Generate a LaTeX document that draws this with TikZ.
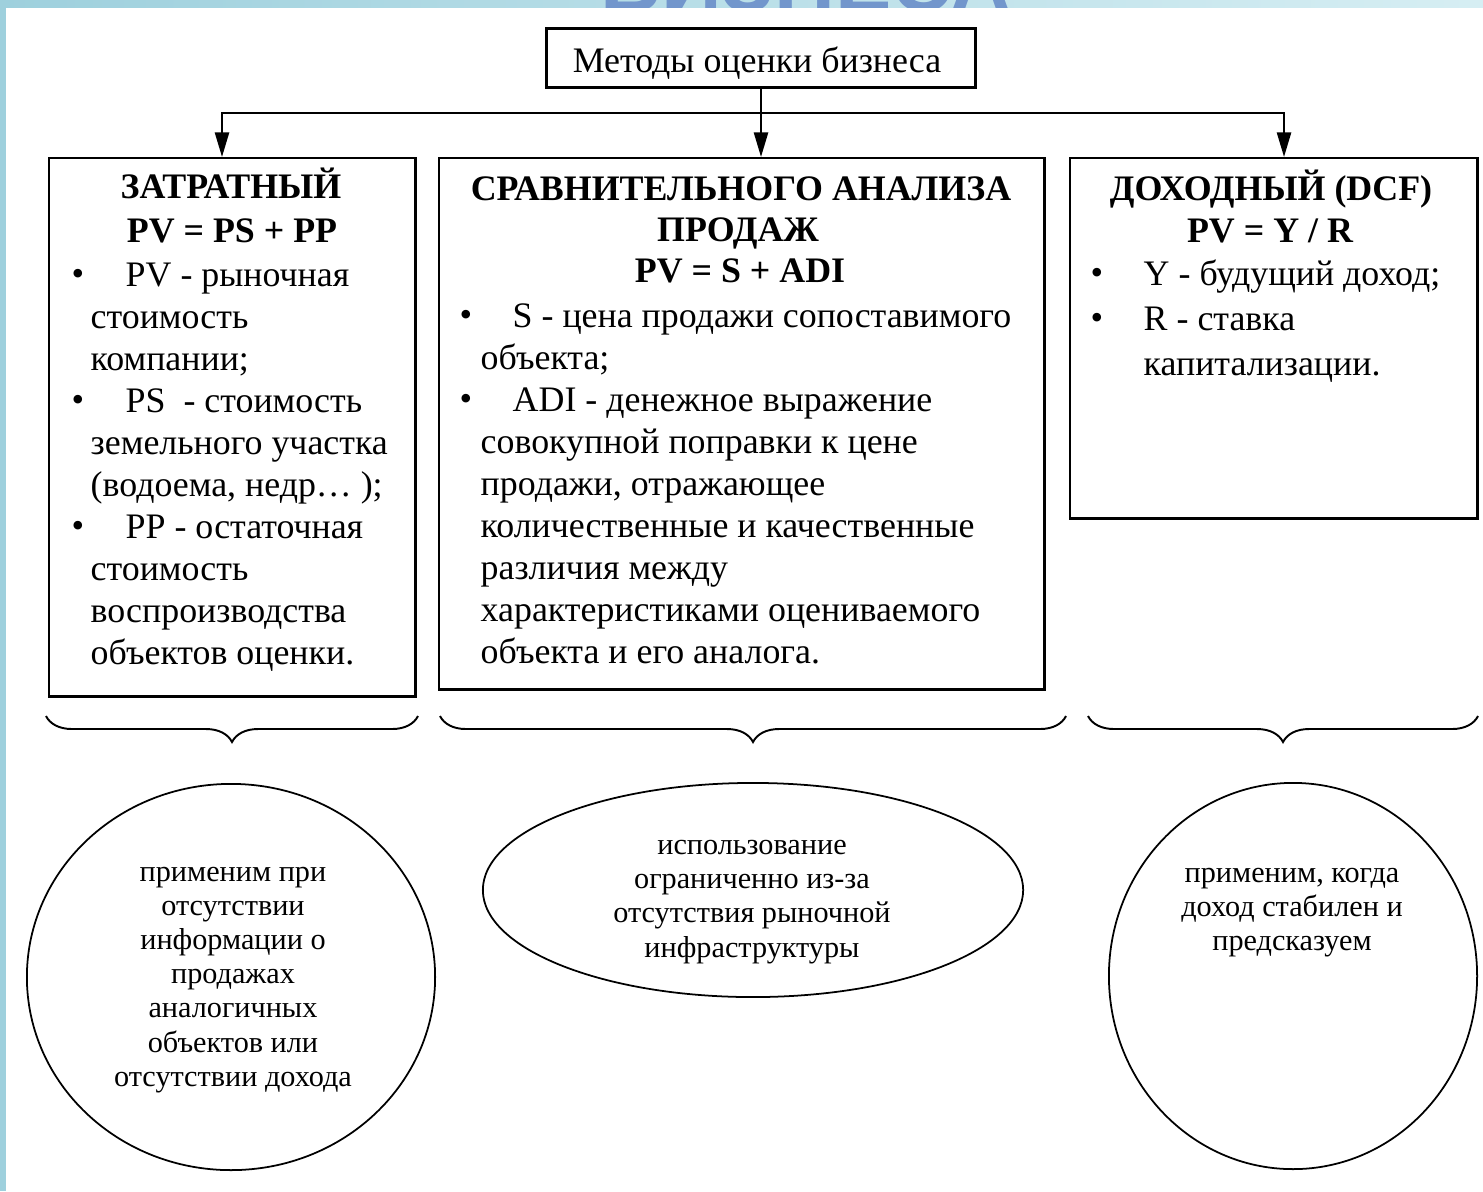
\documentclass[tikz,border=0pt]{standalone}
\usepackage{fontspec}
\setmainfont{Liberation Serif}
\newfontfamily\titlefont{Liberation Sans}
\usetikzlibrary{arrows.meta,shapes.geometric,decorations.pathreplacing,calc}
\definecolor{bandL}{RGB}{158,208,221}
\definecolor{bandR}{RGB}{214,238,243}
\definecolor{titleblue}{RGB}{114,150,204}
\begin{document}
\begin{tikzpicture}[x=0.01cm,y=-0.01cm,
  box/.style={draw, line width=0.65pt, rectangle, inner sep=0, anchor=north west},
  oval/.style={draw, line width=0.5pt, ellipse, inner sep=0},
  hd/.style={anchor=base, inner sep=0, font=\fontsize{10.2}{12}\selectfont\bfseries},
  tx/.style={anchor=base west, inner sep=0, font=\fontsize{10.2}{12}\selectfont},
  bul/.style={anchor=base, inner sep=0, font=\fontsize{10.2}{12}\selectfont},
  ctx/.style={align=center, inner sep=0, font=\fontsize{8.6}{9.7}\selectfont},
  conn/.style={line width=0.65pt},
  arr/.style={conn, -{Triangle[length=7pt,width=4pt]}},
  brc/.style={line width=0.55pt, decorate, decoration={brace, amplitude=7.4pt}}
]
\useasboundingbox (0,0) rectangle (1483,1191);
\clip (0,0) rectangle (1483,1191);
% background
\fill[left color=bandL, right color=bandR] (0,0) rectangle (1483,8);
\fill[bandL] (0,0) rectangle (6,1191);
\node[anchor=base, inner sep=0, text=titleblue, font=\titlefont\bfseries\fontsize{24}{24}\selectfont] (title) at (806,12) {БИЗНЕСА};
\fill[white] (6,8) rectangle (1483,1191);

% top box
\node[draw, line width=0.8pt, minimum width=4.29cm, minimum height=0.59cm, inner sep=0] (top) at (761,58) {};
\node[inner sep=0, font=\fontsize{10.2}{12}\selectfont] (toptext) at (757,63) {Методы оценки бизнеса};

% method boxes
\node[box, minimum width=3.66cm, minimum height=5.38cm] (lbox) at (48,157) {};
\node[box, minimum width=6.05cm, minimum height=5.31cm] (mbox) at (438,157) {};
\node[box, minimum width=4.07cm, minimum height=3.60cm] (rbox) at (1069,157) {};

% connectors
\coordinate (hl) at (222,113);
\coordinate (hr) at (1284,113);
\draw[conn, line cap=rect] (hl) -- (hr);
\draw[arr] (top.south) -- (top.south |- mbox.north);
\draw[arr] (hl) -- (hl |- lbox.north);
\draw[arr] (hr) -- (hr |- rbox.north);

% left box text
\node[hd] (lh1) at (231,199) {ЗАТРАТНЫЙ};
\node[hd] (lh2) at (232,242) {PV = PS + PP};
\node[bul] (lb1) at (78,285) {\textbullet};
\node[tx] (l1) at (125,286) {PV - рыночная};
\node[tx] (l2) at (90,328) {стоимость};
\node[tx] (l3) at (90,370) {компании;};
\node[bul] (lb2) at (78,411) {\textbullet};
\node[tx] (l4) at (125,412) {PS\ \ - стоимость};
\node[tx] (l5) at (90,454) {земельного участка};
\node[tx] (l6) at (90,496) {(водоема, недр… );};
\node[bul] (lb3) at (78,537) {\textbullet};
\node[tx] (l7) at (125,538) {PP - остаточная};
\node[tx] (l8) at (90,580) {стоимость};
\node[tx] (l9) at (90,622) {воспроизводства};
\node[tx] (l10) at (90,664) {объектов оценки.};

% middle box text
\node[hd] (mh1) at (741,200) {СРАВНИТЕЛЬНОГО АНАЛИЗА};
\node[hd] (mh2) at (738,241) {ПРОДАЖ};
\node[hd] (mh3) at (740,282) {PV = S + ADI};
\node[bul] (mb1) at (466,326) {\textbullet};
\node[tx] (m1) at (512,327) {S - цена продажи сопоставимого};
\node[tx] (m2) at (480,369) {объекта;};
\node[bul] (mb2) at (466,410) {\textbullet};
\node[tx] (m3) at (512,411) {ADI - денежное выражение};
\node[tx] (m4) at (480,453) {совокупной поправки к цене};
\node[tx] (m5) at (480,495) {продажи, отражающее};
\node[tx] (m6) at (480,537) {количественные и качественные};
\node[tx] (m7) at (480,579) {различия между};
\node[tx] (m8) at (480,621) {характеристиками оцениваемого};
\node[tx] (m9) at (480,663) {объекта и его аналога.};

% right box text
\node[hd] (rh1) at (1271,200) {ДОХОДНЫЙ (DCF)};
\node[hd] (rh2) at (1270,242) {PV = Y / R};
\node[bul] (rb1) at (1097,284) {\textbullet};
\node[tx] (r1) at (1143,285) {Y - будущий доход;};
\node[bul] (rb2) at (1097,329) {\textbullet};
\node[tx] (r2) at (1143,330) {R - ставка};
\node[tx] (r3) at (1143,375) {капитализации.};

% braces
\coordinate (b1r) at (418,716); \coordinate (b1l) at (46,716);
\coordinate (b2r) at (1066,716); \coordinate (b2l) at (440,716);
\coordinate (b3r) at (1478,716); \coordinate (b3l) at (1088,716);
\draw[brc] (b1r) -- (b1l);
\draw[brc] (b2r) -- (b2l);
\draw[brc] (b3r) -- (b3l);

% ovals
\node[oval, minimum width=4.08cm, minimum height=3.86cm] (lcirc) at (231,977) {};
\node[ctx] (lctext) at (233,980) {применим при\\отсутствии\\информации о\\продажах\\аналогичных\\объектов или\\отсутствии дохода};
\node[oval, minimum width=5.40cm, minimum height=2.14cm] (mell) at (753,890) {};
\node[ctx] (mctext) at (752,902) {использование\\ограниченно из-за\\отсутствия рыночной\\инфраструктуры};
\node[oval, minimum width=3.68cm, minimum height=3.86cm] (rcirc) at (1293,976) {};
\node[ctx] (rctext) at (1292,913) {применим, когда\\доход стабилен и\\предсказуем};
\end{tikzpicture}
\end{document}
